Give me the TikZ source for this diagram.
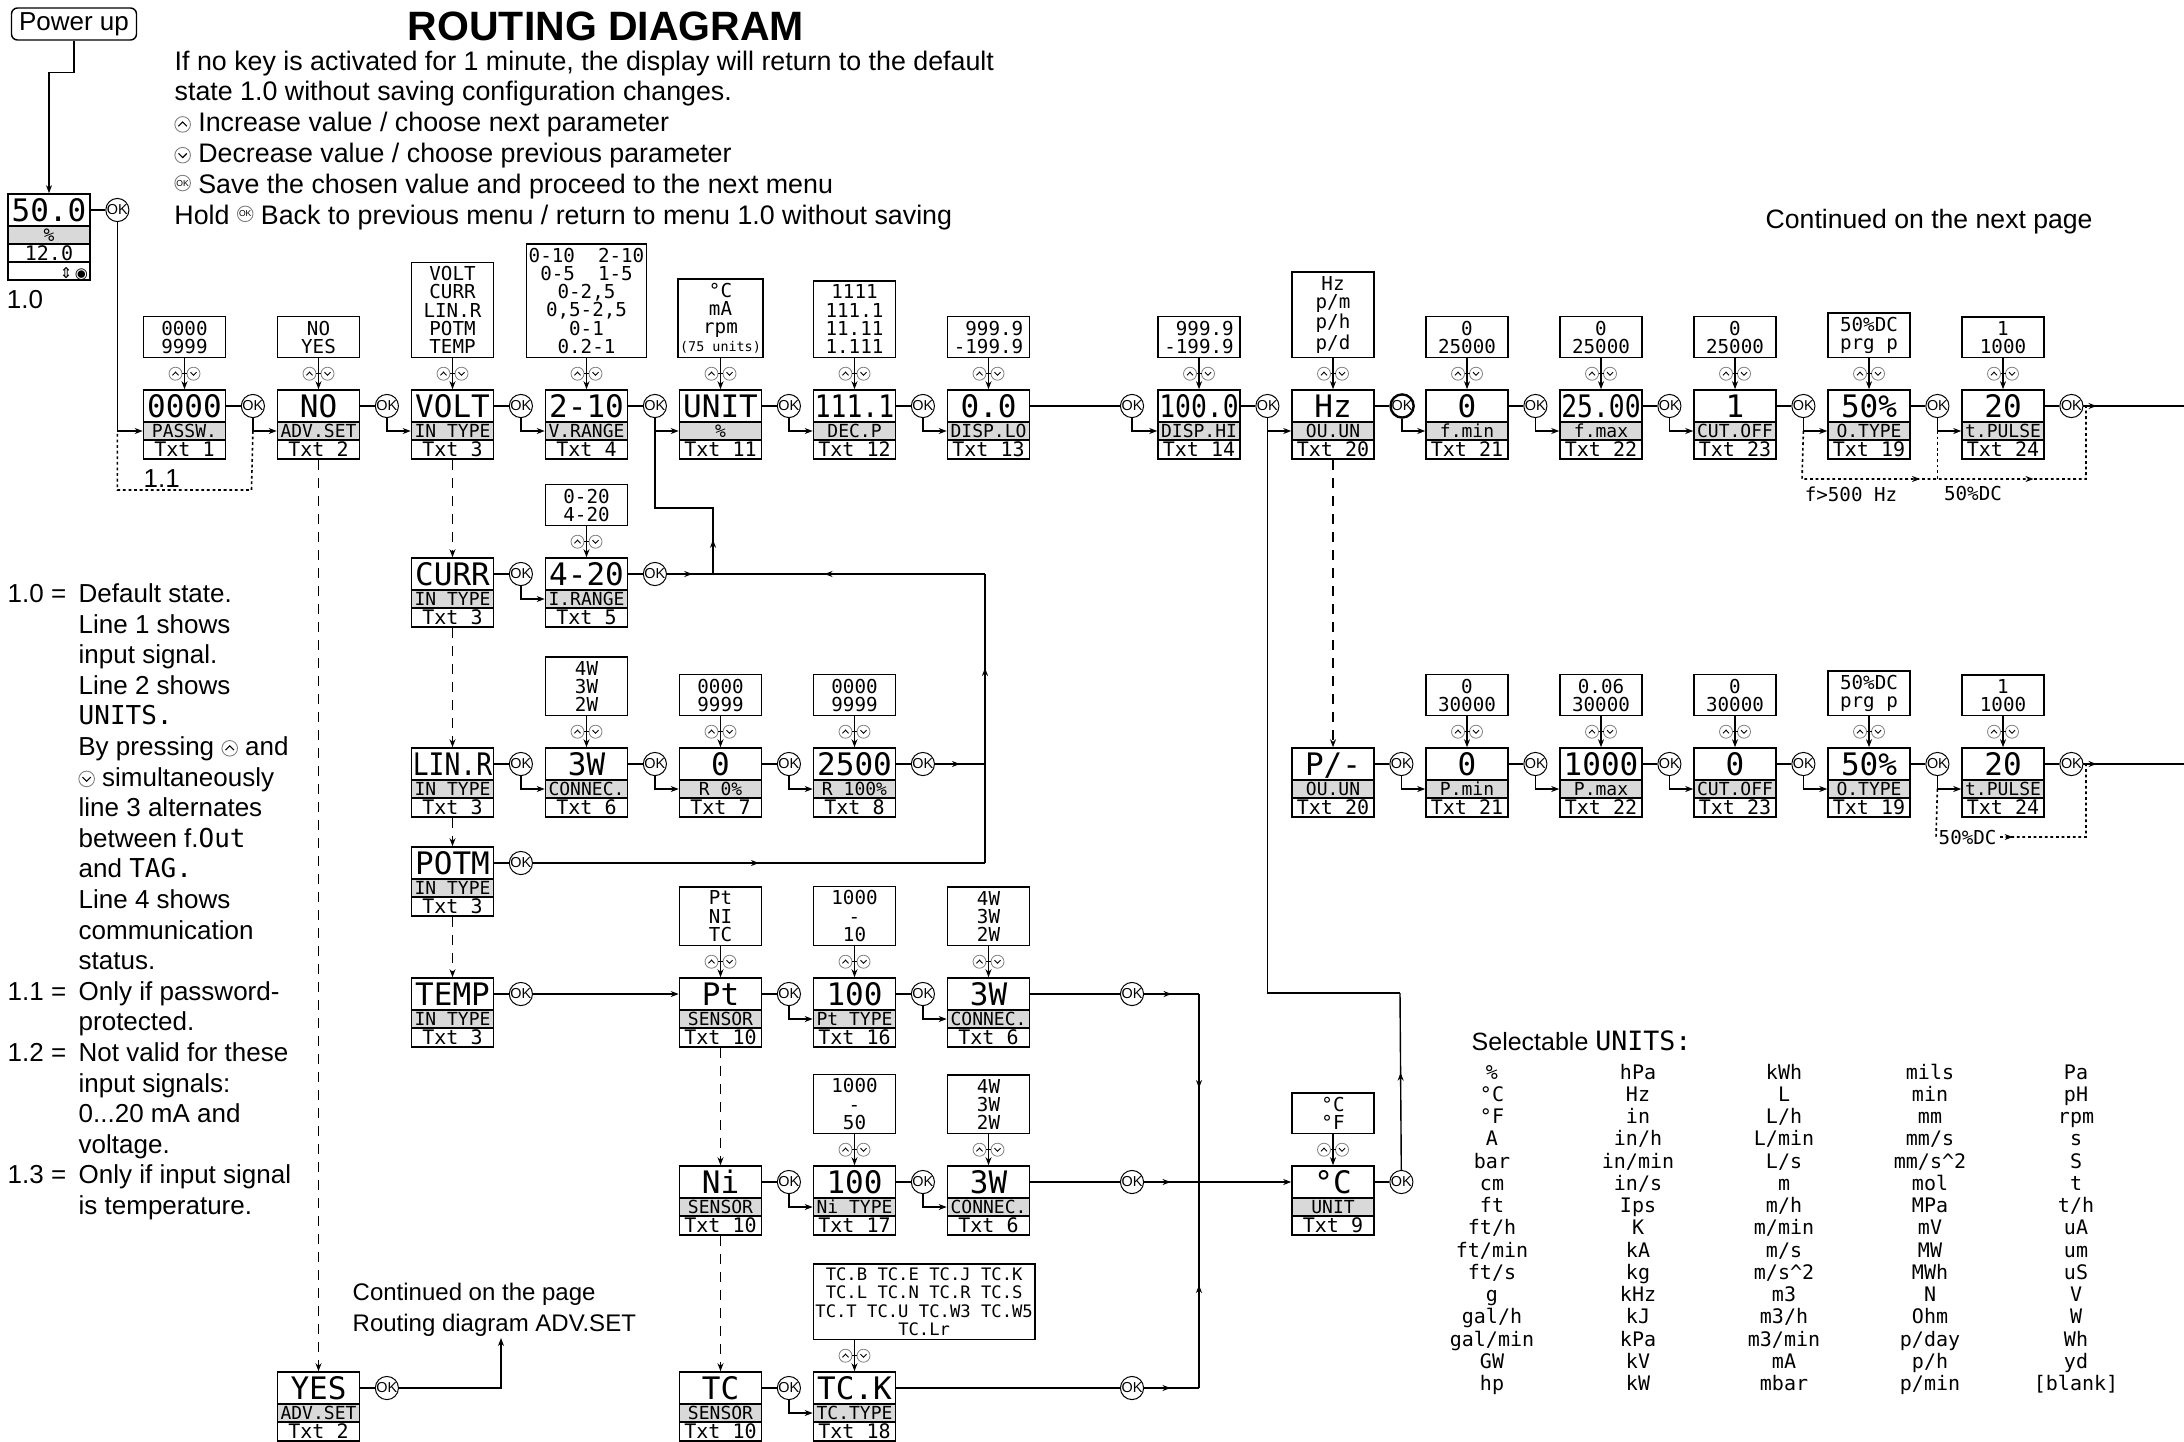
\documentclass[tikz,border=0pt]{standalone}
\usepackage{fontspec}
\usepackage{graphicx}
\setmainfont{Liberation Sans}
\newfontfamily\lcd{DejaVu Sans Mono}
\newfontfamily\symf{DejaVu Sans}
\usetikzlibrary{positioning,arrows.meta,decorations.markings}

% squeeze wide display values
\newcommand{\sq}[1]{\scalebox{0.85}[1]{#1}}
% keys in the text
\newcommand{\upkey}{\tikz[baseline=-3.6pt]{\draw[black!50,line width=0.45pt] (0pt,0pt) circle (3.9pt); \draw[line width=0.55pt] (-2.1pt,-0.9pt) -- (0pt,1.2pt) -- (2.1pt,-0.9pt);}}
\newcommand{\dnkey}{\tikz[baseline=-3.6pt]{\draw[black!50,line width=0.45pt] (0pt,0pt) circle (3.9pt); \draw[line width=0.55pt] (-2.1pt,0.9pt) -- (0pt,-1.2pt) -- (2.1pt,0.9pt);}}
\newcommand{\okkey}{\tikz[baseline=-3.6pt]{\node[circle,draw=black!50,line width=0.45pt,inner sep=0pt,minimum size=7.8pt,font=\fontsize{4.3}{4.3}\selectfont] at (0pt,0pt) {OK};}}
% display: name, centre x, top y, value, label, text
\newcommand{\dispbox}[6]{%
  \node[valrow] (#1) at (#2,#3+16) {#4};
  \node[labrow] (#1-l) at (#2,#3+41) {#5};
  \node[txtrow] (#1-t) at (#2,#3+59.5) {#6};}
% up/down keys on the arrow
\newcommand{\updn}[1]{%
  \begin{scope}[shift={(#1)}]
    \draw[keyc] (-9,0) circle (3.25pt) (9,0) circle (3.25pt);
    \draw[keyl] (-12,1.6) -- (-9,-1.6) -- (-6,1.6);
    \draw[keyl] (6,-1.6) -- (9,1.6) -- (12,-1.6);
    \draw[keyl] (-2.5,0) -- (2.5,0);
  \end{scope}}
% choices above a display
\newcommand{\optbox}[3][]{%
  \node[optrow,#1,above=15.5pt of #2] (#2-o) {#3};
  \coordinate[above=7.75pt of #2] (#2-k);
  \draw[->] (#2-o) -- (#2);
  \updn{#2-k}}
% OK step to the next display
\newcommand{\okto}[4][]{%
  \node[okc,#1,right=7.25pt of #2] (#3) {OK};
  \draw (#2) -- (#3);
  \draw[->] (#3) |- (#4-l);}

\begin{document}
\begin{tikzpicture}[x=0.5pt,y=-0.5pt,line width=0.7pt,
  >={Stealth[length=4pt,width=3pt]},
  valrow/.style={draw,line width=0.8pt,minimum width=41pt,minimum height=16pt,inner sep=0pt,font=\fontsize{15.5}{16}\lcd,text height=11.3pt,text depth=0pt},
  labrow/.style={draw,line width=0.8pt,fill=black!15,minimum width=41pt,minimum height=9pt,inner sep=0pt,font=\fontsize{9}{10}\lcd,text height=6.6pt,text depth=0pt},
  txtrow/.style={draw,line width=0.8pt,minimum width=41pt,minimum height=9.5pt,inner sep=0pt,font=\fontsize{10}{10}\lcd,text height=7.3pt,text depth=0pt},
  optrow/.style={draw,line width=0.7pt,minimum width=41pt,inner xsep=1pt,inner ysep=2pt,align=center,font=\fontsize{9.6}{9.1}\lcd},
  okc/.style={circle,draw,line width=0.5pt,minimum size=11.5pt,inner sep=0pt,font=\fontsize{7.2}{7.2}\selectfont},
  keyc/.style={draw=black!50,line width=0.4pt},
  keyl/.style={line width=0.45pt},
  lcdsm/.style={font=\fontsize{9.6}{9.6}\lcd,inner sep=0pt},
  hdr/.style={font=\fontsize{13.4}{13.4}\selectfont,inner sep=0pt,anchor=base west},
  note/.style={font=\fontsize{13}{13}\selectfont,inner sep=0pt,anchor=base west},
  unitx/.style={font=\fontsize{10}{10}\lcd,inner sep=0pt,anchor=base},
  dashln/.style={line width=0.8pt,dash pattern=on 5pt off 4pt},
  dotln/.style={line width=0.8pt,dash pattern=on 1.4pt off 1.4pt},
  marr/.style={postaction={decorate,decoration={markings,mark=at position #1 with {\arrow{Stealth[length=4pt,width=3pt]}}}}}]
\useasboundingbox (0,0) rectangle (2184,1441);

% Title and header
\node[font=\fontsize{20.5}{20.5}\selectfont\bfseries] (title) at (606,26) {ROUTING DIAGRAM};
\foreach \t [count=\i] in {{If no key is activated for 1 minute, the display will return to the default},
  {state 1.0 without saving configuration changes.},
  {\upkey\ Increase value / choose next parameter},
  {\dnkey\ Decrease value / choose previous parameter},
  {\okkey\ Save the chosen value and proceed to the next menu},
  {Hold \okkey\ Back to previous menu / return to menu 1.0 without saving}}
  \node[hdr] (hd\i) at (174,39.2+30.8*\i) {\t};
\node[hdr,font=\fontsize{13.3}{13.3}\selectfont] (contnext) at (1765,228.5) {Continued on the next page};

% Power up and default state
\node[draw,rounded corners=3pt,minimum width=62.5pt,minimum height=16pt,inner sep=0pt,font=\fontsize{13}{13}\selectfont] (power) at (74,24) {Power up};
\node[valrow] (def) at (49,210) {50.0};
\node[labrow] (def-l) at (49,235) {\%};
\node[txtrow,minimum height=9pt] (def-t) at (49,253) {12.0};
\node[txtrow,minimum height=9pt,text width=39pt,align=right,font=\fontsize{7.5}{7.5}\symf] (def-s) at (49,271) {⇕\,◉};
\node[font=\fontsize{13}{13}\selectfont] (lab10) at (25,300) {1.0};
\draw[->] (power.south) -- ++(0,32) -| (def.north);
\node[okc,right=7.25pt of def] (okdef) {OK};
\draw (def) -- (okdef);

% Row 1
\dispbox{pw}{184.5}{390}{0000}{PASSW.}{Txt 1}
\optbox{pw}{0000\\9999}
\dispbox{adv}{318.5}{390}{NO}{ADV.SET}{Txt 2}
\optbox{adv}{NO\\YES}
\dispbox{volt}{452.5}{390}{VOLT}{IN TYPE}{Txt 3}
\optbox{volt}{VOLT\\CURR\\LIN.R\\POTM\\TEMP}
\dispbox{vr}{586.5}{390}{2-10}{V.RANGE}{Txt 4}
\optbox[minimum width=57.5pt]{vr}{0-10\ \ 2-10\\0-5\ \ 1-5\\0-2,5\\0,5-2,5\\0-1\\0.2-1}
\dispbox{unit}{720.5}{390}{UNIT}{\%}{Txt 11}
\optbox{unit}{°C\\mA\\rpm\\{\fontsize{6.7}{9.1}\selectfont(75 units)}}
\dispbox{dec}{854.5}{390}{\sq{111.1}}{DEC.P}{Txt 12}
\optbox{dec}{1111\\111.1\\11.11\\1.111}
\dispbox{dlo}{988.5}{390}{0.0}{DISP.LO}{Txt 13}
\optbox[align=right]{dlo}{999.9\\-199.9}
\dispbox{dhi}{1199}{390}{\sq{100.0}}{DISP.HI}{Txt 14}
\optbox[align=right]{dhi}{999.9\\-199.9}
\dispbox{ouun}{1333}{390}{Hz}{OU.UN}{Txt 20}
\optbox{ouun}{Hz\\p/m\\p/h\\p/d}
\dispbox{fmin}{1467}{390}{0}{f.min}{Txt 21}
\optbox{fmin}{0\\25000}
\dispbox{fmax}{1601}{390}{\sq{25.00}}{f.max}{Txt 22}
\optbox{fmax}{0\\25000}
\dispbox{cut}{1735}{390}{1}{CUT.OFF}{Txt 23}
\optbox{cut}{0\\25000}
\dispbox{otyp}{1869}{390}{50\%}{O.TYPE}{Txt 19}
\optbox{otyp}{50\%DC\\prg p}
\dispbox{tpul}{2003}{390}{20}{t.PULSE}{Txt 24}
\optbox{tpul}{1\\1000}

\draw[->] (okdef) |- (pw-l);
\okto{pw}{okpw}{adv}
\okto{adv}{okadv}{volt}
\okto{volt}{okvolt}{vr}
\okto{vr}{okvr}{unit}
\okto{unit}{okunit}{dec}
\okto{dec}{okdec}{dlo}
\node[okc] (okpre) at (1132,406) {OK};
\draw (dlo) -- (okpre);
\draw[->] (okpre) |- (dhi-l);
\okto{dhi}{okdhi}{ouun}
\okto[line width=1.2pt]{ouun}{okhz}{fmin}
\okto{fmin}{okfmin}{fmax}
\okto{fmax}{okfmax}{cut}
\okto{cut}{okcut}{otyp}
\okto{otyp}{okotyp}{tpul}
\node[okc,right=7.25pt of tpul] (oktpul) {OK};
\draw (tpul) -- (oktpul);
\coordinate (out1) at (2184,406);
\draw[marr=0.13] (oktpul) -- (out1);

% 1.1 loop
\coordinate (loop11) at (251.5,490);
\draw[dotln] (okpw |- pw-l) -- (loop11) -| (okdef |- pw-l);
\node[note] (lab11) at (143,487) {1.1};

% Pulse output loops, row 1
\coordinate (d1a) at (1802,479);
\coordinate (d1b) at (2086,479);
\coordinate (d1c) at (2086,406);
\draw[dotln,marr=0.41,marr=0.69] (okcut |- otyp-l) -- (d1a) -- (d1b) -- (d1c);
\draw[dotln] (okotyp |- tpul-l) -- (okotyp |- d1a);
\node[lcdsm] (f500) at (1851,494) {f>500 Hz};
\node[lcdsm] (dc1) at (1973,494) {50\%DC};

% Current
\dispbox{curr}{452.5}{558}{CURR}{IN TYPE}{Txt 3}
\dispbox{ir}{586.5}{558}{4-20}{I.RANGE}{Txt 5}
\optbox{ir}{0-20\\4-20}
\okto{curr}{okcurr}{ir}
\node[okc,right=7.25pt of ir] (okir) {OK};
\draw (ir) -- (okir);
\coordinate (jc) at (713,574);
\coordinate (ja) at (713,508);
\draw[marr=0.55] (okir) -- (jc);
\draw[marr=0.16] (jc) -- (ja) -- (okvr |- ja) -- (okvr);

% Linear resistance
\dispbox{linr}{452.5}{748}{\sq{LIN.R}}{IN TYPE}{Txt 3}
\dispbox{con1}{586.5}{748}{3W}{CONNEC.}{Txt 6}
\optbox{con1}{4W\\3W\\2W}
\dispbox{r0}{720.5}{748}{0}{R 0\%}{Txt 7}
\optbox{r0}{0000\\9999}
\dispbox{r100}{854.5}{748}{2500}{R 100\%}{Txt 8}
\optbox{r100}{0000\\9999}
\okto{linr}{oklinr}{con1}
\okto{con1}{okcon1}{r0}
\okto{r0}{okr0}{r100}
\node[okc,right=7.25pt of r100] (okr100) {OK};
\draw (r100) -- (okr100);
\coordinate (jl) at (985,764);
\draw[marr=0.5] (okr100) -- (jl);

% Potentiometer
\dispbox{potm}{452.5}{847}{POTM}{IN TYPE}{Txt 3}
\node[okc,right=7.25pt of potm] (okpotm) {OK};
\draw (potm) -- (okpotm);
\coordinate (jp) at (985,863);
\coordinate (jr) at (985,574);
\draw[marr=0.5] (okpotm) -- (jp);
\draw[marr=0.675] (jp) -- (jr);
\draw[marr=0.59] (jr) -- (jc);

% Temperature
\dispbox{temp}{452.5}{978}{TEMP}{IN TYPE}{Txt 3}
\node[okc,right=7.25pt of temp] (oktemp) {OK};
\draw (temp) -- (oktemp);
\dispbox{pt}{720.5}{978}{Pt}{SENSOR}{Txt 10}
\optbox{pt}{Pt\\NI\\TC}
\draw[->] (oktemp) -- (pt);
\dispbox{pttype}{854.5}{978}{100}{Pt TYPE}{Txt 16}
\optbox{pttype}{1000\\-\\10}
\dispbox{con2}{988.5}{978}{3W}{CONNEC.}{Txt 6}
\optbox{con2}{4W\\3W\\2W}
\okto{pt}{okpt}{pttype}
\okto{pttype}{okpttype}{con2}
\node[okc] (okt3) at (1132,994) {OK};
\draw (con2) -- (okt3);
\coordinate (jt) at (1199,994);
\coordinate (jn) at (1199,1182);
\draw[marr=0.5] (okt3) -- (jt);
\draw[marr=0.5] (jt) -- (jn);

\dispbox{ni}{720.5}{1166}{Ni}{SENSOR}{Txt 10}
\dispbox{nitype}{854.5}{1166}{100}{Ni TYPE}{Txt 17}
\optbox{nitype}{1000\\-\\50}
\dispbox{con3}{988.5}{1166}{3W}{CONNEC.}{Txt 6}
\optbox{con3}{4W\\3W\\2W}
\okto{ni}{okni}{nitype}
\okto{nitype}{oknitype}{con3}
\node[okc] (okn3) at (1132,1182) {OK};
\draw (con3) -- (okn3);

\dispbox{tc}{720.5}{1372}{TC}{SENSOR}{Txt 10}
\dispbox{tck}{854.5}{1372}{TC.K}{TC.TYPE}{Txt 18}
\node[optrow,font=\fontsize{8.6}{9.1}\lcd,minimum width=107.5pt,above right=15.5pt and 0pt of tck.north west] (tck-o) {TC.B TC.E TC.J TC.K\\TC.L TC.N TC.R TC.S\\TC.T TC.U TC.W3 TC.W5\\TC.Lr};
\coordinate[above=7.75pt of tck] (tck-k);
\draw[->] (tck-o.south -| tck) -- (tck);
\updn{tck-k}
\okto{tc}{oktc}{tck}
\node[okc] (okt4) at (1132,1388) {OK};
\draw (tck) -- (okt4);
\coordinate (jtc) at (1199,1388);
\draw[marr=0.48] (okt4) -- (jtc);
\draw[marr=0.5] (jtc) -- (jn);

% Temperature unit
\dispbox{degc}{1333}{1166}{°C}{UNIT}{Txt 9}
\optbox{degc}{°C\\°F}
\draw[->,marr=0.18] (okn3) -- (degc);
\node[okc,right=7.25pt of degc] (okdegc) {OK};
\draw (degc) -- (okdegc);
\coordinate (jd) at (1400,993);
\draw[marr=0.55] (okdegc) -- (jd);
\draw (jd) -| (okdhi);

% Pulse output, row 2
\dispbox{pun}{1333}{748}{P/-}{OU.UN}{Txt 20}
\dispbox{pmin}{1467}{748}{0}{P.min}{Txt 21}
\optbox{pmin}{0\\30000}
\dispbox{pmax}{1601}{748}{1000}{P.max}{Txt 22}
\optbox{pmax}{0.06\\30000}
\dispbox{pcut}{1735}{748}{0}{CUT.OFF}{Txt 23}
\optbox{pcut}{0\\30000}
\dispbox{potyp}{1869}{748}{50\%}{O.TYPE}{Txt 19}
\optbox{potyp}{50\%DC\\prg p}
\dispbox{ptpul}{2003}{748}{20}{t.PULSE}{Txt 24}
\optbox{ptpul}{1\\1000}
\okto{pun}{okpun}{pmin}
\okto{pmin}{okpmin}{pmax}
\okto{pmax}{okpmax}{pcut}
\okto{pcut}{okpcut}{potyp}
\okto{potyp}{okpotyp}{ptpul}
\node[okc,right=7.25pt of ptpul] (okptpul) {OK};
\draw (ptpul) -- (okptpul);
\coordinate (out2) at (2184,764);
\draw[marr=0.13] (okptpul) -- (out2);
\coordinate (d2a) at (1936,837);
\coordinate (d2b) at (2086,837);
\coordinate (d2c) at (2086,764);
\draw[dotln,marr=0.46] (okpotyp |- ptpul-l) -- (d2a) -- (d2b) -- (d2c);
\node[lcdsm,fill=white,inner sep=0.5pt,anchor=west] (dc2) at (1937,837) {50\%DC};

% Advanced settings
\dispbox{yes}{318.5}{1372}{YES}{ADV.SET}{Txt 2}
\node[okc,right=7.25pt of yes] (okyes) {OK};
\draw (yes) -- (okyes);
\coordinate (advend) at (501,1338);
\draw[->] (okyes) -| (advend);
\node[note,font=\fontsize{12}{12}\selectfont] (cont1) at (352,1300) {Continued on the page};
\node[note,font=\fontsize{12}{12}\selectfont] (cont2) at (352,1331) {Routing diagram ADV.SET};

% Dashed alternatives
\draw[dashln,->] (adv-t) -- (yes);
\draw[dashln,->] (volt-t) -- (curr);
\draw[dashln,->] (curr-t) -- (linr);
\draw[dashln,->] (linr-t) -- (potm);
\draw[dashln,->] (potm-t) -- (temp);
\draw[dashln,->] (ouun-t) -- (pun);
\draw[dashln,->] (pt-t) -- (ni);
\draw[dashln,->] (ni-t) -- (tc);

% Notes
\node[note] (n10) at (7,602.5) {1.0 =};
\node[note] (n11) at (7,1000.3) {1.1 =};
\node[note] (n12) at (7,1061.5) {1.2 =};
\node[note] (n13) at (7,1183.9) {1.3 =};
\foreach \t [count=\i] in {{Default state.},{Line 1 shows},{input signal.},{Line 2 shows},
  {{\lcd UNITS.}},{By pressing \upkey\ and},{\dnkey\ simultaneously},{line 3 alternates},
  {between f.{\lcd Out}},{and {\lcd TAG.}},{Line 4 shows},{communication},{status.},
  {Only if password-},{protected.},{Not valid for these},{input signals:},{0.{}.{}.20 mA and},
  {voltage.},{Only if input signal},{is temperature.}}
  \node[note] (nt\i) at (78,571.9+30.6*\i) {\t};

% Units
\node[note,font=\fontsize{12.5}{12.5}\selectfont] (selu) at (1471,1050) {Selectable {\fontsize{13.3}{13.3}\lcd UNITS:}};
\foreach \u [count=\i] in {\%,°C,°F,A,bar,cm,ft,{ft/h},{ft/min},{ft/s},g,{gal/h},{gal/min},GW,hp}
  \node[unitx] (ua\i) at (1492,1056.74+22.26*\i) {\u};
\foreach \u [count=\i] in {hPa,Hz,in,{in/h},{in/min},{in/s},Ips,K,kA,kg,kHz,kJ,kPa,kV,kW}
  \node[unitx] (ub\i) at (1638,1056.74+22.26*\i) {\u};
\foreach \u [count=\i] in {kWh,L,{L/h},{L/min},{L/s},m,{m/h},{m/min},{m/s},{m/s\textasciicircum 2},m3,{m3/h},{m3/min},mA,mbar}
  \node[unitx] (uc\i) at (1784,1056.74+22.26*\i) {\u};
\foreach \u [count=\i] in {mils,min,mm,{mm/s},{mm/s\textasciicircum 2},mol,MPa,mV,MW,MWh,N,Ohm,{p/day},{p/h},{p/min}}
  \node[unitx] (ud\i) at (1930,1056.74+22.26*\i) {\u};
\foreach \u [count=\i] in {Pa,pH,rpm,s,S,t,{t/h},uA,um,uS,V,W,Wh,yd,{[blank]}}
  \node[unitx] (ue\i) at (2076,1056.74+22.26*\i) {\u};
\end{tikzpicture}
\end{document}
